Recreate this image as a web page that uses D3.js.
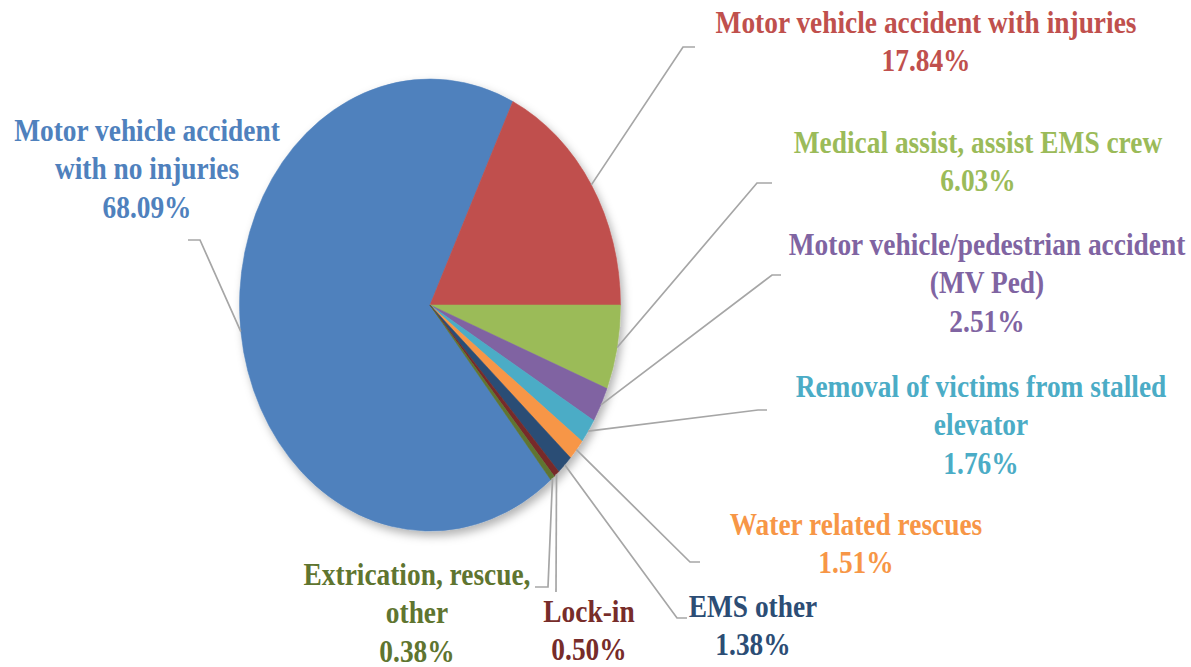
<!DOCTYPE html>
<html>
<head>
<meta charset="utf-8">
<script src="https://cdn.jsdelivr.net/npm/d3@7"></script>
<style>
  body { margin: 0; background: #fff; }
  svg { display: block; }
</style>
</head>
<body>
<div id="chart"></div>
<script>
// slice data, clockwise from the big blue slice
const categories = [
    "Motor vehicle accident with no injuries",
    "Motor vehicle accident with injuries",
    "Medical assist, assist EMS crew",
    "Motor vehicle/pedestrian accident (MV Ped)",
    "Removal of victims from stalled elevator",
    "Water related rescues",
    "EMS other",
    "Lock-in",
    "Extrication, rescue, other"
];
const percents = [68.09, 17.84, 6.03, 2.51, 1.76, 1.51, 1.38, 0.50, 0.38];
const colors = ["#4F81BD", "#C0504D", "#9BBB59", "#8064A2", "#4BACC6", "#F79646", "#2C4D75", "#772C2A", "#5F7530"];
// label text lines (last line is the percent)
const labelLines = [
    ["Motor vehicle accident", "with no injuries"],
    ["Motor vehicle accident with injuries"],
    ["Medical assist, assist EMS crew"],
    ["Motor vehicle/pedestrian accident", "(MV Ped)"],
    ["Removal of victims from stalled", "elevator"],
    ["Water related rescues"],
    ["EMS other"],
    ["Lock-in"],
    ["Extrication, rescue,", "other"]
];

const width = 1191, height = 667;
const cx = 430, cy = 305, rx = 190.5, ry = 226;

// label layout: center x, first baseline, leader bend and end points
const layout = [
    { x: 147, y: 141, bend: [200, 240], end: [188, 240] },
    { x: 926, y: 33,  bend: [683, 47],  end: [695, 47] },
    { x: 978, y: 153, bend: [757, 183], end: [772, 183] },
    { x: 987, y: 255, bend: [772, 275], end: [781, 275] },
    { x: 981, y: 397, bend: [758, 410], end: [767, 410] },
    { x: 856, y: 535, bend: [690, 562], end: [700, 562] },
    { x: 753, y: 617, bend: [677, 618], end: [687, 618] },
    { x: 589, y: 622, bend: [556, 592], end: [556, 592] },
    { x: 417, y: 585, bend: [548, 587], end: [535, 587] }
];
const lineGap = 38.3;

const data = categories.map((c, i) => ({ name: c, value: percents[i], color: colors[i], lines: labelLines[i], pos: layout[i] }));

const svg = d3.select("#chart").append("svg")
    .attr("width", width)
    .attr("height", height);

const defs = svg.append("defs");
const shadow = defs.append("filter").attr("id", "shadow")
    .attr("x", "-20%").attr("y", "-20%").attr("width", "140%").attr("height", "140%");
shadow.append("feDropShadow")
    .attr("dx", 3).attr("dy", 4)
    .attr("stdDeviation", 4)
    .attr("flood-color", "#000")
    .attr("flood-opacity", 0.3);

// red slice ends at 3 o'clock, so the blue one starts before it
const startDeg = 90 - (percents[0] + percents[1]) * 3.6;
const pie = d3.pie()
    .value(d => d.value)
    .sort(null)
    .startAngle(startDeg * Math.PI / 180)
    .endAngle(startDeg * Math.PI / 180 + 2 * Math.PI);

const arcs = pie(data);
const arc = d3.arc().innerRadius(0).outerRadius(rx);

const pieG = svg.append("g")
    .attr("transform", `translate(${cx},${cy}) scale(1,${ry / rx})`)
    .attr("filter", "url(#shadow)");

pieG.selectAll("path")
    .data(arcs)
    .enter().append("path")
    .attr("d", arc)
    .attr("fill", d => d.data.color)
    .attr("stroke", d => d.data.color)
    .attr("stroke-width", 0.5);

// leader lines from the slice's outer middle point
function edgePoint(d) {
    const a = (d.startAngle + d.endAngle) / 2;
    return [cx + rx * Math.sin(a), cy - ry * Math.cos(a)];
}

svg.append("g")
    .selectAll("polyline")
    .data(arcs)
    .enter().append("polyline")
    .attr("points", d => [edgePoint(d), d.data.pos.bend, d.data.pos.end].map(p => p.join(",")).join(" "))
    .attr("fill", "none")
    .attr("stroke", "#A6A6A6")
    .attr("stroke-width", 1.7);

const labels = svg.append("g")
    .selectAll("g")
    .data(arcs)
    .enter().append("g");

labels.each(function(d) {
    const g = d3.select(this);
    const lines = d.data.lines.concat([d.data.value.toFixed(2) + "%"]);
    lines.forEach((t, k) => {
        g.append("text")
            .attr("transform", `translate(${d.data.pos.x},${d.data.pos.y + k * lineGap}) scale(1,1.12)`)
            .attr("text-anchor", "middle")
            .style("font-family", '"Liberation Serif"')
            .style("font-weight", "bold")
            .style("font-size", "27.4px")
            .attr("fill", d.data.color)
            .text(t);
    });
});
</script>
</body>
</html>
